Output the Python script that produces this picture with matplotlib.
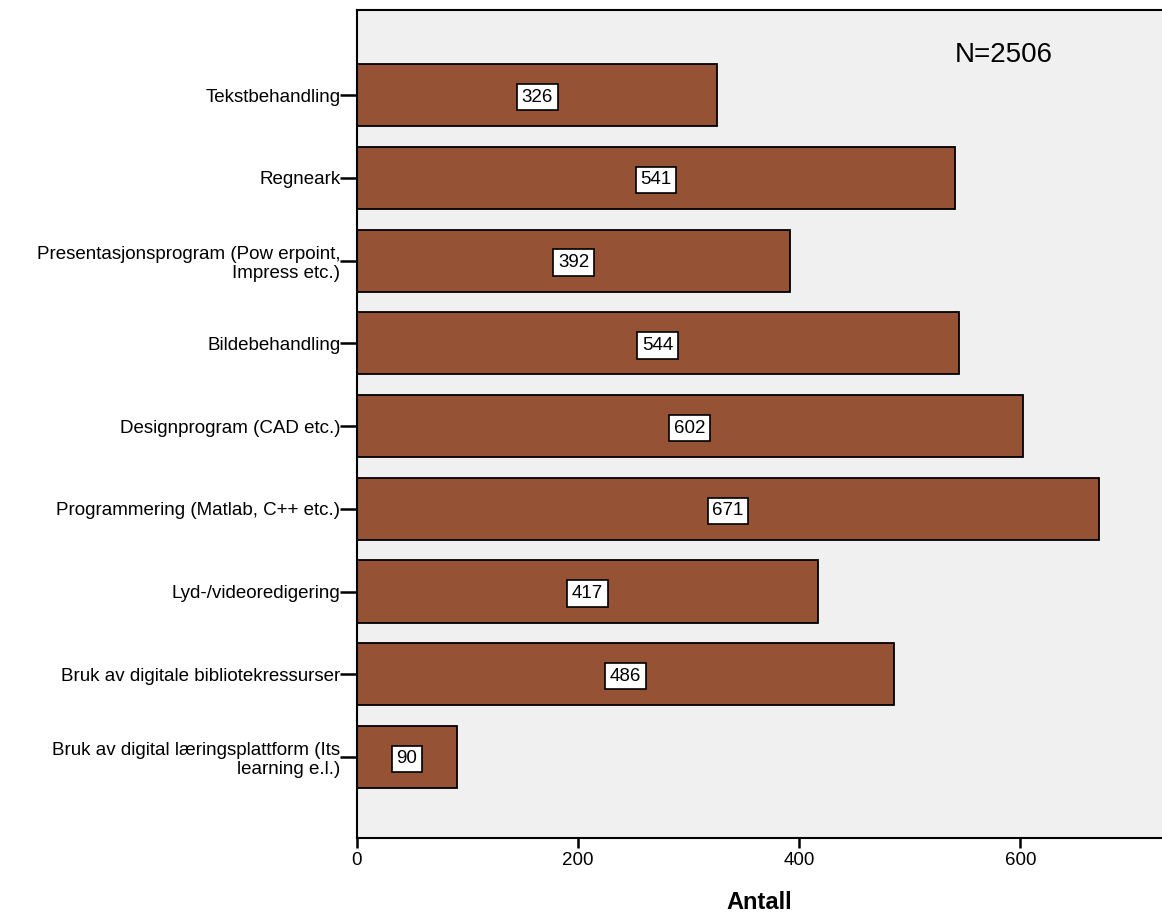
import matplotlib.pyplot as plt

# ==========================================
# 数据
# ==========================================
categories = [
    'Tekstbehandling',
    'Regneark',
    'Presentasjonsprogram (Pow erpoint,\nImpress etc.)',
    'Bildebehandling',
    'Designprogram (CAD etc.)',
    'Programmering (Matlab, C++ etc.)',
    'Lyd-/videoredigering',
    'Bruk av digitale bibliotekressurser',
    'Bruk av digital læringsplattform (Its\nlearning e.l.)',
]
counts = [326, 541, 392, 544, 602, 671, 417, 486, 90]
x_ticks = [0, 200, 400, 600]
n_text = 'N=2506'

plt.rcParams['font.family'] = ['Liberation Sans', 'DejaVu Sans']

fig = plt.figure(figsize=(11.62, 9.17), dpi=100)
ax = fig.add_axes([357 / 1162, 1 - 838 / 917, 1 - 357 / 1162, (838 - 10) / 917])
ax.set_facecolor('#F0F0F0')

pos = list(range(len(categories)))
ax.barh(pos, counts, height=0.75, color='#955235', edgecolor='black', linewidth=1.3)

# 数值标签放在条形中间
for p, v in zip(pos, counts):
    ax.text(v / 2, p, str(v), ha='center', va='center_baseline', fontsize=13.5,
            bbox=dict(boxstyle='square,pad=0.25', facecolor='white', edgecolor='black', linewidth=1.2))

ax.set_yticks(pos)
ax.set_yticklabels(categories, fontsize=13.5, linespacing=1.15)
ax.set_ylim(8.98, -1.03)
ax.set_xlim(0, 728)
ax.set_xticks(x_ticks)
ax.tick_params(axis='x', labelsize=13.5, length=7, width=1.8, pad=3)
ax.tick_params(axis='y', length=12, width=1.8, pad=0)

ax.set_xlabel('Antall', fontsize=17, fontweight='bold', labelpad=16)

for side in ['left', 'bottom', 'top']:
    ax.spines[side].set_linewidth(1.5)
ax.spines['right'].set_visible(False)

ax.text(0.804, 0.946, n_text, transform=ax.transAxes, ha='center', va='center', fontsize=20)

fig.savefig('out.png', dpi=100)
